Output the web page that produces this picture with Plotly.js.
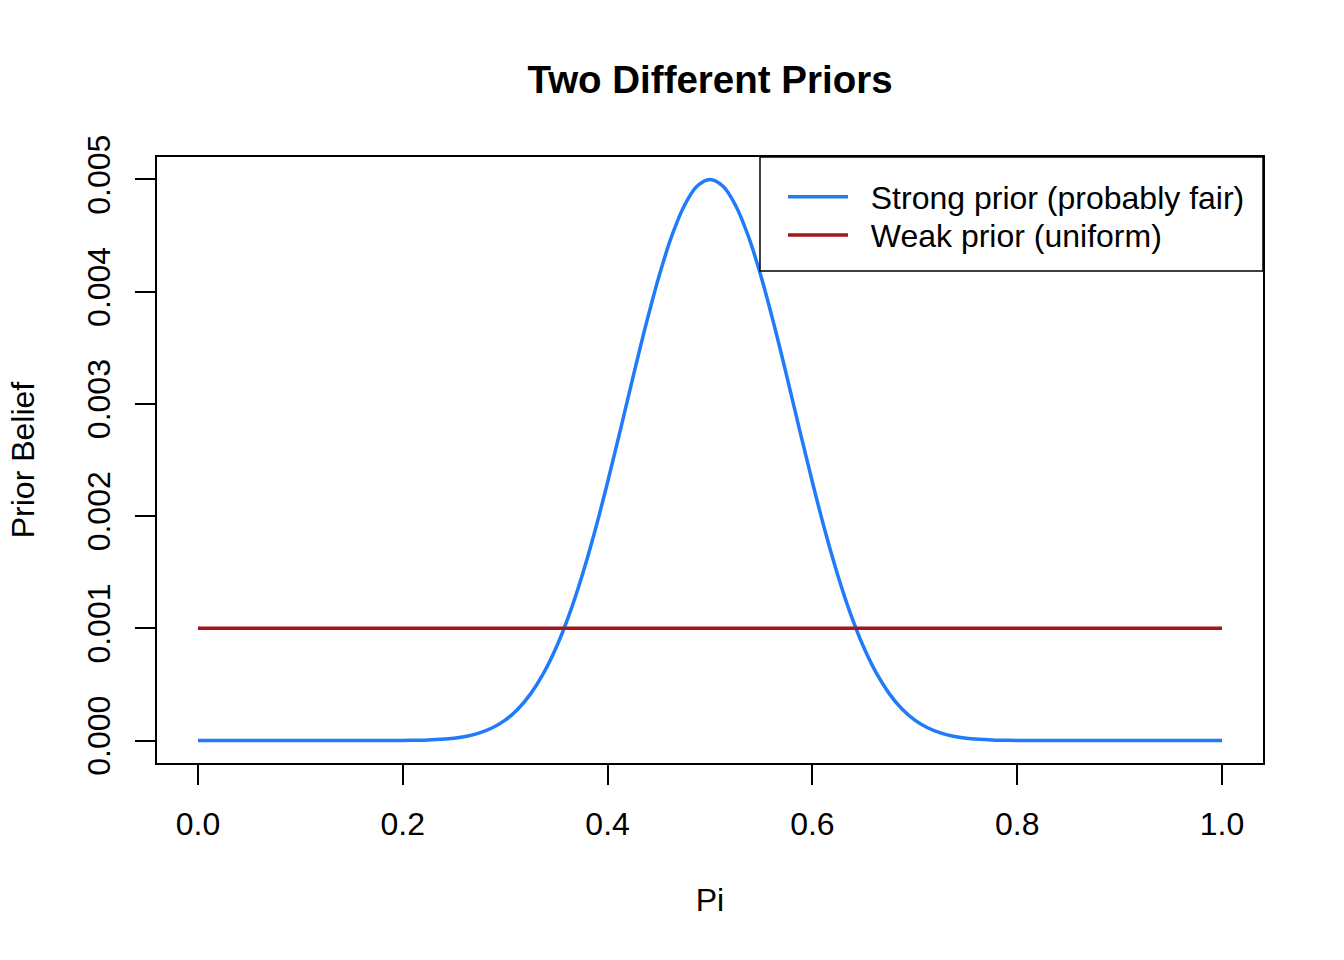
<!DOCTYPE html>
<html>
<head>
<meta charset="utf-8">
<script src="https://cdn.plot.ly/plotly-3.0.1.min.js"></script>
<style>
  html, body { margin: 0; padding: 0; background: #fff; }
  #chart { width: 1344px; height: 960px; }
</style>
</head>
<body>
<div id="chart"></div>
<script>
// Pi values (finer around the peak)
const piValues = [
  0.000, 0.025, 0.050, 0.075, 0.100, 0.125, 0.150, 0.175, 0.200,
  0.2125, 0.225, 0.2375, 0.250, 0.2625, 0.275, 0.2875, 0.300, 0.3125,
  0.325, 0.3375, 0.350, 0.3625, 0.375, 0.3875, 0.400, 0.4125, 0.425,
  0.4375, 0.450, 0.4625, 0.475, 0.4875, 0.500, 0.5125, 0.525, 0.5375,
  0.550, 0.5625, 0.575, 0.5875, 0.600, 0.6125, 0.625, 0.6375, 0.650,
  0.6625, 0.675, 0.6875, 0.700, 0.7125, 0.725, 0.7375, 0.750, 0.7625,
  0.775, 0.7875, 0.800, 0.825, 0.850, 0.875, 0.900, 0.925, 0.950,
  0.975, 1.000,
];

// strong prior (probably fair), peaked at 0.5
const strongPrior = [
  0, 0, 0, 0, 0, 0, 0, 0.0000002, 0.000001,
  0.0000024, 0.000005, 0.0000109, 0.000021, 0.0000388, 0.000068, 0.000114, 0.000182, 0.000281,
  0.000418, 0.000600, 0.000833, 0.001122, 0.001467, 0.001863, 0.002302, 0.002769, 0.003245,
  0.003707, 0.004131, 0.004492, 0.004768, 0.004941, 0.005000, 0.004941, 0.004768, 0.004492,
  0.004131, 0.003707, 0.003245, 0.002769, 0.002302, 0.001863, 0.001467, 0.001122, 0.000833,
  0.000600, 0.000418, 0.000281, 0.000182, 0.000114, 0.000068, 0.0000388, 0.000021, 0.0000109,
  0.000005, 0.0000024, 0.000001, 0.0000002, 0, 0, 0, 0, 0,
  0, 0,
];

// weak prior (uniform)
const weakPrior = piValues.map(() => 0.001);

const seriesNames = ['Strong prior (probably fair)', 'Weak prior (uniform)'];
const xTicks = [0, 0.2, 0.4, 0.6, 0.8, 1.0];
const yTicks = [0, 0.001, 0.002, 0.003, 0.004, 0.005];

const font = 'Liberation Sans, Arial, Helvetica, sans-serif';
const gap = '\u00a0\u00a0';

const legendBase = {
  x: 0.5660,
  xanchor: 'left',
  yanchor: 'middle',
  bgcolor: 'rgba(0,0,0,0)',
  borderwidth: 0,
  font: {size: 32},
  itemwidth: 60,
};

Plotly.newPlot('chart', [{
  x: piValues,
  y: strongPrior,
  name: gap + seriesNames[0],
  legend: 'legend',
  mode: 'lines',
  line: {color: '#1F7BFA', width: 3.5, shape: 'spline', smoothing: 1},
}, {
  x: piValues,
  y: weakPrior,
  name: gap + seriesNames[1],
  legend: 'legend2',
  mode: 'lines',
  line: {color: '#A2161F', width: 3.5},
}], {
  width: 1344,
  height: 960,
  margin: {l: 157, r: 81, t: 157, b: 197},
  paper_bgcolor: '#ffffff',
  plot_bgcolor: '#ffffff',
  font: {family: font, size: 32, color: '#000'},
  title: {
    text: '<b>Two Different Priors</b>',
    font: {family: font, size: 38.5, color: '#000'},
    x: 0.5283,
    xanchor: 'center',
    y: 0.917,
    yanchor: 'middle',
  },
  xaxis: {
    range: [-0.04, 1.04],
    tickvals: xTicks,
    tickformat: '.1f',
    ticks: 'outside',
    ticklen: 20,
    tickwidth: 1.5,
    tickcolor: '#000',
    showline: true,
    linecolor: '#000',
    linewidth: 1.5,
    mirror: true,
    showgrid: false,
    zeroline: false,
    ticklabelstandoff: 12,
    tickfont: {size: 32},
    title: {text: 'Pi', font: {size: 32}, standoff: 47},
  },
  yaxis: {
    range: [-0.0002, 0.0052],
    tickvals: yTicks,
    tickformat: '.3f',
    tickangle: -90,
    ticks: 'outside',
    ticklen: 20,
    tickwidth: 1.5,
    tickcolor: '#000',
    showline: true,
    linecolor: '#000',
    linewidth: 1.5,
    mirror: true,
    showgrid: false,
    zeroline: false,
    ticklabelstandoff: 12,
    tickfont: {size: 32},
    title: {text: 'Prior Belief', font: {size: 32}, standoff: 37},
  },
  shapes: [{
    type: 'rect',
    xref: 'paper',
    yref: 'paper',
    x0: 0.5452,
    x1: 1,
    y0: 0.8119,
    y1: 1,
    fillcolor: '#ffffff',
    line: {color: '#000', width: 1.5},
    layer: 'above',
  }],
  legend: Object.assign({}, legendBase, {y: 0.934}),
  legend2: Object.assign({}, legendBase, {y: 0.871}),
  showlegend: true,
}, {displayModeBar: false});
</script>
</body>
</html>
